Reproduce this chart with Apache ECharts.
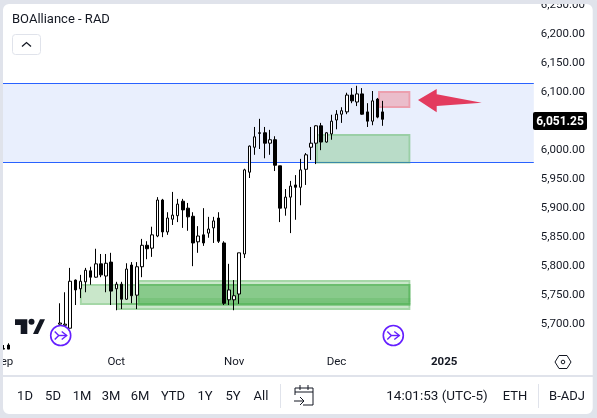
<!DOCTYPE html>
<html><head><meta charset="utf-8">
<style>html,body{margin:0;padding:0;background:#fff}#c{width:597px;height:418px}</style>
<script src="https://cdn.jsdelivr.net/npm/echarts@6/dist/echarts.min.js"></script>
</head><body><div id="c"></div>
<script>
const FONT = 'Roboto, sans-serif';
const INK = '#131722';
const SESSION_COUNT = 104;
const monthIndex = [0, 22, 45, 65, 86];
const monthNames = ['Sep', 'Oct', 'Nov', 'Dec', '2025'];
const yTicksHidden = [5650, 6050];
const lastPrice = '6,051.25';

const opens = [5655,5662,null,null,null,null,null,null,null,null,null,
5698,5696,5691,5774,5759,5771,5790,5779,5802,5781,5805,5759,5767,5741,5800,5748,5797,5834,5829,5850,5912,5857,5879,5885,5910,5898,5884,5840,5852,5855,5864,5881,5838,5740,5740,5750,5819,5960,6003,6028,6028,6010,6016,5971,5898,5917,5938,5934,5965,6003,6010,6040,6012,6026,6050,6060,6064,6093,6081,6095,6064,6048,6086,6064];
const closes = [5656,5655,null,null,null,null,null,null,null,null,null,
5700,5698,5772,5757,5772,5791,5779,5802,5783,5803,5755,5767,5741,5793,5747,5797,5834,5828,5852,5912,5857,5881,5886,5905,5895,5883,5838,5850,5838,5862,5876,5841,5734,5757,5747,5821,5964,6005,6021,6027,6010,6016,5972,5898,5917,5936,5934,5964,5990,6010,6040,6012,6028,6048,6060,6066,6093,6083,6095,6060,6048,6083,6055,6051.25];
const lows = [5655,5655,null,null,null,null,null,null,null,null,null,
5697,5695,5691,5731,5743,5753,5766,5778,5779,5753,5731,5722,5724,5740,5734,5724,5779,5810,5814,5848,5848,5852,5869,5874,5864,5859,5798,5821,5833,5847,5838,5838,5731,5731,5722,5733,5812,5950,5990,6000,5984,5990,5962,5874,5885,5855,5878,5903,5938,5981,5974,5998,6011,6016,6034,6045,6060,6079,6074,6059,6038,6041,6053,6040];
const highs = [5662,5665,null,null,null,null,null,null,null,null,null,
5734,5753,5795,5775,5783,5795,5797,5828,5819,5819,5821,5771,5771,5803,5805,5805,5845,5841,5866,5917,5914,5891,5926,5914,5914,5907,5891,5867,5898,5883,5883,5891,5841,5802,5774,5821,5966,6006,6038,6052,6038,6033,6022,5971,5931,5945,5955,5983,5993,6038,6041,6045,6029,6059,6067,6072,6097,6105,6109,6105,6079,6100,6088,6083];

// zones: [startSession, endSession, lowPrice, highPrice]
const rangeBand = [0, 104, 5977, 6112.9];
const greenZones = [
  [15.4, 79.9, 5731, 5767.2],
  [22.6, 79.9, 5722.4, 5734.5],
  [26.7, 79.9, 5729.5, 5774.1],
  [26.7, 79.9, 5733, 5767.2],
  [61.5, 79.9, 5975, 6026]
];
const darkStripes = [[26.7, 79.9, 5736, 5743.1]];
const redZones = [[73.6, 79.9, 6070.7, 6100]];

const rangeLabels = ['1D','5D','1M','3M','6M','YTD','1Y','5Y','All'];
const rangeLabelX = [25,53,82,111,140,173,205,233,261];

const categories = Array.from({length: SESSION_COUNT}, (_, i) => String(i));
const ohlc = opens.map((o, i) => [o, closes[i], lows[i], highs[i]]);

function text(t, x, y, opt) {
  return {type:'text', z:110, style:Object.assign({text:t, x, y, fill:INK, font:'13px '+FONT, textAlign:'center', textVerticalAlign:'middle'}, opt||{})};
}
function eventMark(cx, cy) {
  const st = {stroke:'#651fff', fill:null, lineWidth:1.4};
  return [
    {type:'circle', z:105, shape:{cx, cy, r:10}, style:{stroke:'#651fff', fill:'rgba(255,255,255,0)', lineWidth:1.6}},
    {type:'polyline', z:105, shape:{points:[[cx-6,cy-4],[cx-2,cy],[cx-6,cy+4]]}, style:st},
    {type:'polyline', z:105, shape:{points:[[cx-2,cy],[cx+6,cy]]}, style:st},
    {type:'polyline', z:105, shape:{points:[[cx+1,cy-4],[cx+6,cy],[cx+1,cy+4]]}, style:st}
  ];
}
const line = {stroke:INK, fill:null, lineWidth:1};
const TOOLBAR_Y = 397;
const graphics = [
  {type:'polygon', z:100, shape:{points:[[418,100],[436.7,89],[436.7,94.3],[481.7,102.7],[436.7,106],[436.7,112.3]]}, style:{fill:'#e33b5e'}},
  {type:'polygon', z:100, shape:{points:[[15,319.3],[27.3,319.3],[27.3,334],[20.7,334],[20.7,325],[15,325]]}, style:{fill:INK}},
  {type:'circle', z:100, shape:{cx:31.5, cy:321.7, r:3}, style:{fill:INK}},
  {type:'polygon', z:100, shape:{points:[[33,334],[40,319.3],[45,319.3],[38,334]]}, style:{fill:INK}},
  ...eventMark(60.7, 335.5),
  ...eventMark(393.3, 335.5),
  {type:'rect', z:100, shape:{x:533, y:112, width:54, height:18, r:2}, style:{fill:'#000'}},
  text(lastPrice, 560, 122, {fill:'#fff', font:'bold 12px '+FONT}),
  text('BOAlliance - RAD', 12, 20, {textAlign:'left'}),
  {type:'rect', z:100, shape:{x:12.5, y:34.5, width:28, height:20, r:3}, style:{fill:'#fff', stroke:'#e0e3eb'}},
  {type:'polyline', z:101, shape:{points:[[22,46.5],[26.5,42.5],[31,46.5]]}, style:{stroke:INK, fill:null, lineWidth:1.3}},
  {type:'polygon', z:100, shape:{points:[[555,362],[559,355.5],[567,355.5],[571,362],[567,368.5],[559,368.5]]}, style:{stroke:INK, fill:'#fff', lineWidth:1}},
  {type:'circle', z:101, shape:{cx:563, cy:362, r:1.8}, style:{stroke:INK, fill:'#fff', lineWidth:1}},
  {type:'rect', z:100, shape:{x:3, y:375, width:590, height:2}, style:{fill:'#e0e3eb'}},
  {type:'rect', z:100, shape:{x:280, y:384, width:1, height:24}, style:{fill:'#e0e3eb'}},
  {type:'rect', z:100, shape:{x:538, y:384, width:1, height:24}, style:{fill:'#e0e3eb'}},
  {type:'polyline', z:100, shape:{points:[[295,395],[295,388],[313,388],[313,405],[303,405]]}, style:line},
  {type:'polyline', z:100, shape:{points:[[295,392],[313,392]]}, style:line},
  {type:'polyline', z:100, shape:{points:[[300,385],[300,390]]}, style:line},
  {type:'polyline', z:100, shape:{points:[[308,385],[308,390]]}, style:line},
  {type:'polyline', z:100, shape:{points:[[294,401],[304,401]]}, style:line},
  {type:'polyline', z:100, shape:{points:[[300,397],[304,401],[300,405]]}, style:line},
  text('14:01:53 (UTC-5)', 437, TOOLBAR_Y, {font:'13.5px '+FONT}),
  text('ETH', 515, TOOLBAR_Y),
  text('B-ADJ', 567, TOOLBAR_Y),
  ...rangeLabels.map((t, i) => text(t, rangeLabelX[i], TOOLBAR_Y)),
  {type:'rect', z:120, shape:{x:-1, y:0, width:597.7, height:418, r:10}, style:{fill:'rgba(0,0,0,0)', stroke:'#e0e3eb', lineWidth:8}}
];

function zoneRenderer(params, api) {
  const a = api.coord([api.value(0), api.value(3)]);
  const b = api.coord([api.value(1), api.value(2)]);
  const kind = api.value(4);
  const w = b[0]-a[0], h = b[1]-a[1];
  if (kind === 0) {
    const y1 = Math.floor(a[1]), y2 = Math.floor(b[1]);
    return {type:'group', children:[
      {type:'rect', shape:{x:a[0], y:a[1], width:w, height:h}, style:{fill:'#e9effd'}},
      {type:'rect', shape:{x:a[0], y:y1, width:w, height:1}, style:{fill:'#2962ff'}},
      {type:'rect', shape:{x:a[0], y:y2, width:w, height:1}, style:{fill:'#2962ff'}}
    ]};
  }
  if (kind === 3) {
    return {type:'rect', shape:{x:a[0], y:a[1], width:w, height:h}, style:{fill:'rgba(76,175,80,0.25)'}};
  }
  const fill = kind === 1 ? 'rgba(76,175,80,0.3)' : 'rgba(242,54,69,0.27)';
  const stroke = kind === 1 ? 'rgba(76,175,80,0.5)' : 'rgba(242,54,69,0.43)';
  return {type:'group', children:[
    {type:'rect', shape:{x:a[0]+2, y:a[1]+2, width:w-4, height:h-4}, style:{fill}},
    {type:'rect', shape:{x:a[0]+1, y:a[1]+1, width:w-2, height:h-2}, style:{fill:'rgba(0,0,0,0)', stroke, lineWidth:2}}
  ]};
}
const zoneData = [
  [...rangeBand, 0],
  ...greenZones.map(z => [...z, 1]),
  ...darkStripes.map(z => [...z, 3]),
  ...redZones.map(z => [...z, 2])
];

const chart = echarts.init(document.getElementById('c'), null, {renderer:'canvas', width:597, height:418});
chart.setOption({
  animation:false,
  backgroundColor:'#fff',
  grid:{left:1, top:4, width:532.8, height:348, containLabel:false, outerBoundsMode:'none'},
  xAxis:[
    {type:'category', data:categories, boundaryGap:true, position:'bottom',
     axisLine:{show:false}, axisTick:{show:false}, splitLine:{show:false},
     axisLabel:{
       interval:(i) => monthIndex.includes(i), margin:4, color:INK, fontFamily:FONT, fontSize:11.5, hideOverlap:false,
       formatter:(v) => { const k = monthIndex.indexOf(+v); const n = monthNames[k]; return n === '2025' ? '{b|2025}' : (n || ''); },
       rich:{b:{fontWeight:'bold', color:INK, fontFamily:FONT, fontSize:11.5}}
     }},
    {type:'value', show:false, min:0, max:SESSION_COUNT, splitLine:{show:false}}
  ],
  yAxis:{type:'value', position:'right', min:5650, max:6250, interval:50, scale:true,
    axisLine:{show:false}, axisTick:{show:false}, splitLine:{show:false},
    axisLabel:{margin:7, color:INK, fontFamily:FONT, fontSize:11.5,
      rich:{p:{color:INK, fontFamily:FONT, fontSize:11.5, padding:[3,0,0,0]}},
      formatter:(v) => yTicksHidden.includes(v) ? '' : '{p|' + v.toLocaleString('en-US',{minimumFractionDigits:2, maximumFractionDigits:2}) + '}'}},
  series:[
    {type:'custom', xAxisIndex:1, yAxisIndex:0, z:1, clip:true, silent:true,
     encode:{x:[0,1], y:[2,3]}, renderItem:zoneRenderer, data:zoneData},
    {type:'candlestick', xAxisIndex:0, yAxisIndex:0, z:3, barWidth:3, clip:true, silent:true, data:ohlc,
     itemStyle:{color:'#fff', color0:'#000', borderColor:'#000', borderColor0:'#000', borderWidth:1}}
  ],
  graphic:{elements:graphics}
});
</script></body></html>
